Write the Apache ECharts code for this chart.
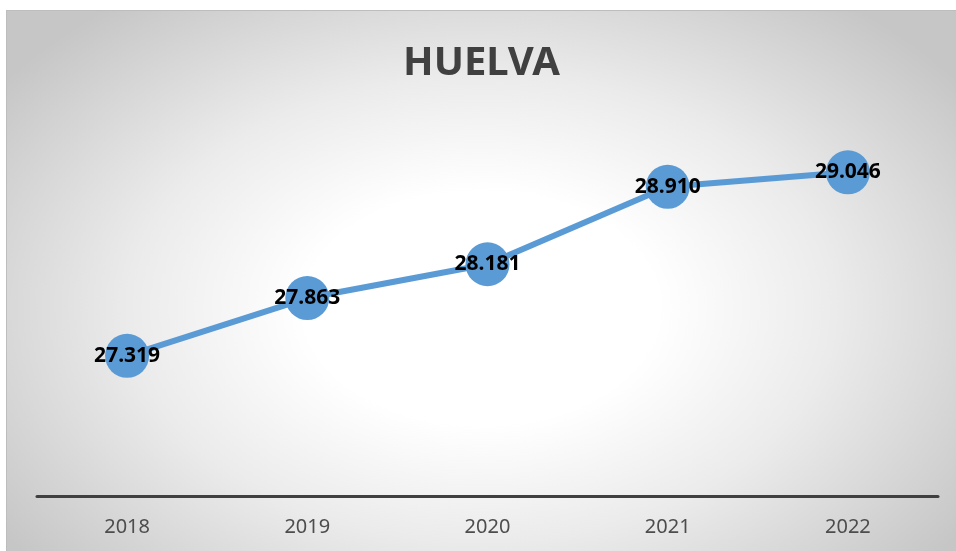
<!DOCTYPE html>
<html>
<head>
<meta charset="utf-8">
<script src="https://cdn.jsdelivr.net/npm/echarts@6/dist/echarts.min.js"></script>
<style>
  html, body { margin: 0; padding: 0; background: #fff; width: 956px; height: 551px; overflow: hidden; }
  #chart {
    position: absolute; left: 6px; top: 10px; width: 950px; height: 541px;
    background: radial-gradient(ellipse 62% 72% at 50% 55%, #ffffff 30%, #ebebeb 60%, #c6c6c6 100%);
    border-top: 1px solid #bdbdbd; border-left: 1px solid #bdbdbd; box-sizing: border-box;
  }
</style>
</head>
<body>
<div id="chart"></div>
<script>
// datos
const years = ["2018", "2019", "2020", "2021", "2022"];
const values = [27.319, 27.863, 28.181, 28.910, 29.046];

const myChart = echarts.init(document.getElementById("chart"));
myChart.setOption({
  title: {
    text: "HUELVA",
    left: "center",
    top: 28,
    textStyle: { fontFamily: "Noto Sans", fontWeight: "bold", fontSize: 40, color: "#404040" }
  },
  grid: { left: 30, right: 18, top: 60, bottom: 55 },
  xAxis: {
    type: "category",
    data: years,
    boundaryGap: true,
    axisLine: { lineStyle: { color: "#404040", width: 3 } },
    axisTick: { show: false },
    axisLabel: { color: "#4d4d4d", fontFamily: "Noto Sans", fontSize: 20, margin: 21 }
  },
  yAxis: {
    type: "value",
    min: 26,
    max: 30,
    show: false,
    splitLine: { show: false }
  },
  series: [{
    type: "line",
    data: values,
    symbol: "circle",
    symbolSize: 44,
    lineStyle: { color: "#5B9BD5", width: 6 },
    itemStyle: { color: "#5B9BD5" },
    label: {
      show: true,
      position: "inside",
      formatter: (p) => p.value.toFixed(3),
      fontFamily: "Noto Sans",
      fontWeight: "bold",
      fontSize: 21,
      color: "#000"
    }
  }]
});
window.onresize = myChart.resize;
</script>
</body>
</html>
